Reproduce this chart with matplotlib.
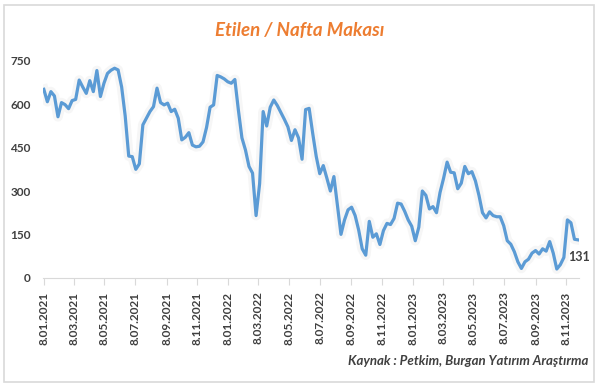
import pandas as pd
import matplotlib.pyplot as plt
import matplotlib.dates as mdates
from matplotlib.patches import Rectangle
from matplotlib.ticker import FuncFormatter

# haftalik etilen / nafta makasi (USD/ton), 8.01.2021'den itibaren
baslangic = "2021-01-08"
makas = [
    652, 609, 644, 629, 557, 606, 599, 585, 613, 617,
    684, 660, 638, 682, 644, 717, 627, 673, 707, 718,
    725, 719, 660, 560, 421, 419, 375, 394, 529, 552,
    575, 592, 656, 606, 598, 604, 575, 583, 552, 477,
    486, 502, 459, 453, 455, 470, 520, 590, 598, 700,
    695, 688, 678, 673, 686, 580, 484, 442, 385, 362,
    215, 325, 575, 525, 590, 615, 596, 572, 548, 522,
    475, 512, 484, 410, 582, 586, 500, 420, 360, 388,
    345, 300, 350, 250, 150, 200, 235, 244, 215, 165,
    100, 78, 195, 140, 152, 115, 163, 188, 184, 205,
    258, 255, 230, 200, 178, 128, 175, 300, 285, 238,
    246, 225, 295, 344, 400, 365, 363, 308, 327, 385,
    360, 367, 335, 285, 225, 207, 228, 215, 211, 211,
    180, 128, 116, 90, 55, 32, 55, 64, 85, 94,
    82, 100, 92, 125, 85, 30, 45, 70, 200, 190,
    133, 131,
]
tarihler = pd.date_range(baslangic, periods=len(makas), freq="7D")
y_etiketler = [0, 150, 300, 450, 600, 750]
x_etiketler = pd.date_range("2021-01-01", "2023-11-01", freq="2MS") + pd.Timedelta(days=7)

mavi = "#5B9BD5"
turuncu = "#ED7D31"
koyu = "#404040"
gri = "#D9D9D9"

plt.rcParams["font.family"] = ["Lato", "DejaVu Sans"]

fig = plt.figure(figsize=(5.99, 3.87), dpi=100)
fig.patches.append(Rectangle((4 / 599, 5 / 387), 590 / 599, 377 / 387, transform=fig.transFigure,
                             fill=False, edgecolor=gri, linewidth=1.2))
ax = fig.add_axes([0.0723, 0.2824, 0.8935, 0.56])

ax.plot(tarihler, makas, color="#F6F6F6", linewidth=7, solid_joinstyle="round", zorder=1)
ax.plot(tarihler, makas, color=mavi, linewidth=2.3, solid_joinstyle="round", zorder=2)
ax.annotate(str(makas[-1]), (tarihler[-1], makas[-1]), xytext=(1, -12), textcoords="offset points",
            ha="center", va="center", fontsize=9, fontweight="bold", color=koyu)

ax.set_xlim(tarihler[0] - pd.Timedelta(days=1), tarihler[-1] + pd.Timedelta(days=1))
ax.set_ylim(0, 750)
ax.set_yticks(y_etiketler)
ax.set_xticks(x_etiketler)
ax.xaxis.set_major_formatter(FuncFormatter(
    lambda v, pos: "{}.{:02d}.{}".format(mdates.num2date(v).day, mdates.num2date(v).month, mdates.num2date(v).year)))

for s in ["top", "right", "left"]:
    ax.spines[s].set_visible(False)
ax.spines["bottom"].set_color(gri)
ax.tick_params(axis="y", length=0, pad=9, labelsize=8.5, labelcolor=koyu)
ax.tick_params(axis="x", length=5, color=gri, pad=5, labelsize=8.5, labelcolor=koyu, labelrotation=90)
for t in ax.get_xticklabels() + ax.get_yticklabels():
    t.set_fontweight("bold")

fig.text(0.5, 0.922, "Etilen / Nafta Makası", ha="center", va="center", fontsize=13.5,
         fontweight="bold", fontstyle="italic", color=turuncu)
fig.text(0.982, 0.066, "Kaynak : Petkim, Burgan Yatırım Araştırma", ha="right", va="center",
         fontsize=9.5, fontweight="bold", fontstyle="italic", color=koyu)

fig.savefig("out.png", dpi=100)
